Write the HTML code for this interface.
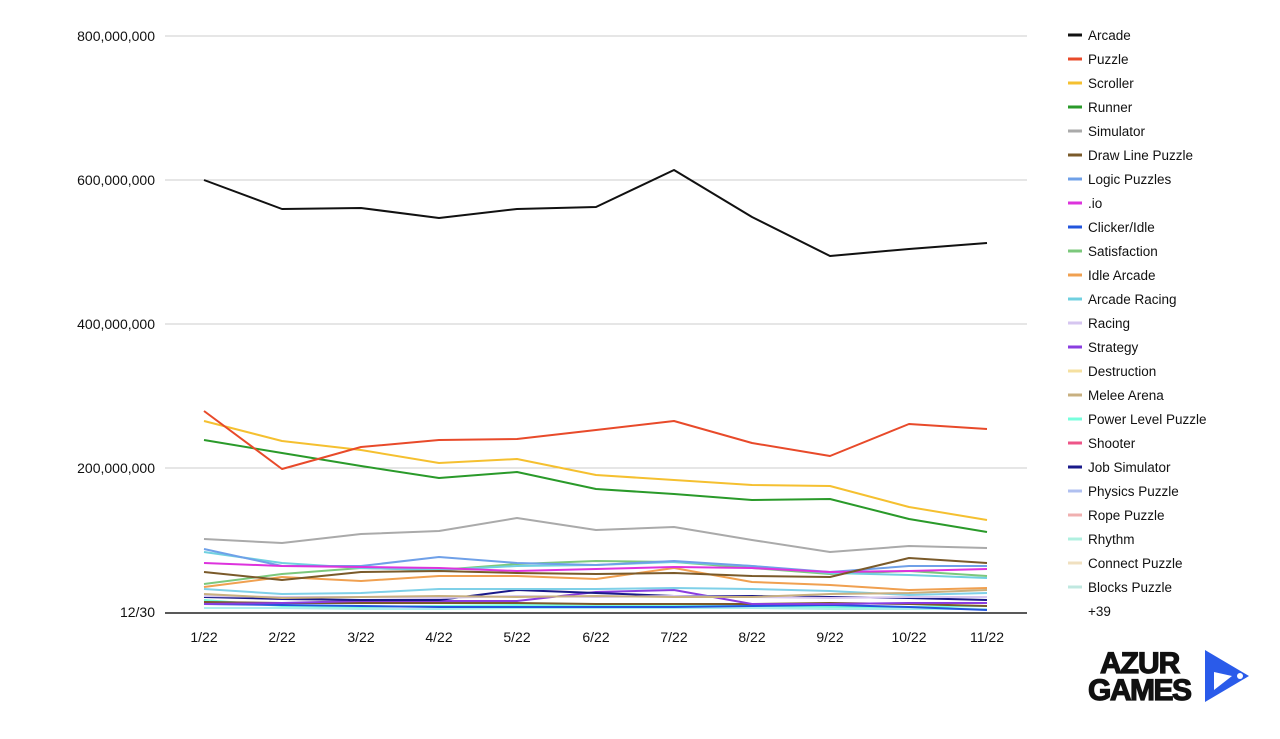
<!DOCTYPE html><html><head><style>body{margin:0;background:#fff;font-family:"Liberation Sans",sans-serif}</style></head><body>
<svg width="1280" height="734" xmlns="http://www.w3.org/2000/svg" font-family="Liberation Sans, sans-serif">
<g stroke="#ccc" stroke-width="1"><line x1="165" y1="36" x2="1027" y2="36"/><line x1="165" y1="180" x2="1027" y2="180"/><line x1="165" y1="324" x2="1027" y2="324"/><line x1="165" y1="468" x2="1027" y2="468"/></g>
<line x1="165" y1="613" x2="1027" y2="613" stroke="#222" stroke-width="1.5"/>
<g font-size="14" fill="#111" text-anchor="end"><text x="155" y="41">800,000,000</text><text x="155" y="185">600,000,000</text><text x="155" y="329">400,000,000</text><text x="155" y="473">200,000,000</text><text x="155" y="617">12/30</text></g>
<g font-size="14" fill="#111" text-anchor="middle"><text x="204" y="642">1/22</text><text x="282" y="642">2/22</text><text x="361" y="642">3/22</text><text x="439" y="642">4/22</text><text x="517" y="642">5/22</text><text x="596" y="642">6/22</text><text x="674" y="642">7/22</text><text x="752" y="642">8/22</text><text x="830" y="642">9/22</text><text x="909" y="642">10/22</text><text x="987" y="642">11/22</text></g>
<g fill="none" stroke-width="2" stroke-linejoin="round">
<polyline stroke="#aee" points="204,608 282,608 361,609 439,609 517,608 596,608 674,608 752,608 830,609 909,609 987,609"/>
<polyline stroke="#7fd" points="204,600 282,606 361,607 439,606 517,605 596,606 674,605 752,606 830,607 909,607 987,606"/>
<polyline stroke="#2255dd" points="204,604 282,605 361,606 439,607 517,607 596,607 674,607 752,606 830,605 909,607 987,610"/>
<polyline stroke="#7a5a2a" points="204,602 282,603 361,603 439,603 517,603 596,604 674,604 752,604 830,603 909,604 987,606"/>
<polyline stroke="#8a3de0" points="204,604 282,603 361,601 439,601 517,601 596,592 674,590 752,604 830,604 909,603 987,603"/>
<polyline stroke="#1a1a8a" points="204,597 282,599 361,600 439,600 517,590 596,593 674,596 752,596 830,597 909,598 987,600"/>
<polyline stroke="#d6c6f0" points="204,596 282,597 361,597 439,598 517,596 596,597 674,596 752,597 830,598 909,597 987,597"/>
<polyline stroke="#7fd0e8" points="204,589 282,594 361,593 439,589 517,589 596,589 674,588 752,589 830,591 909,595 987,593"/>
<polyline stroke="#c8b080" points="204,594 282,598 361,597 439,596 517,597 596,596 674,597 752,597 830,594 909,593 987,590"/>
<polyline stroke="#f0a050" points="204,587 282,577 361,581 439,576 517,576 596,579 674,568 752,582 830,585 909,590 987,588"/>
<polyline stroke="#7cc87c" points="204,584 282,574 361,568 439,570 517,564 596,561 674,562 752,568 830,574 909,571 987,576"/>
<polyline stroke="#70d0e0" points="204,552 282,563 361,568 439,570 517,566 596,565 674,562 752,566 830,573 909,575 987,578"/>
<polyline stroke="#6fa0e8" points="204,549 282,566 361,566 439,557 517,563 596,565 674,561 752,566 830,572 909,566 987,566"/>
<polyline stroke="#dd33dd" points="204,563 282,566 361,567 439,568 517,571 596,569 674,567 752,568 830,572 909,571 987,569"/>
<polyline stroke="#7a5a2a" points="204,572 282,580 361,572 439,571 517,573 596,574 674,573 752,576 830,577 909,558 987,563"/>
<polyline stroke="#aaa" points="204,539 282,543 361,534 439,531 517,518 596,530 674,527 752,540 830,552 909,546 987,548"/>
<polyline stroke="#2a9a2a" points="204,440 282,453 361,466 439,478 517,472 596,489 674,494 752,500 830,499 909,519 987,532"/>
<polyline stroke="#f5c030" points="204,421 282,441 361,450 439,463 517,459 596,475 674,480 752,485 830,486 909,507 987,520"/>
<polyline stroke="#e84a2a" points="204,411 282,469 361,447 439,440 517,439 596,430 674,421 752,443 830,456 909,424 987,429"/>
<polyline stroke="#111" points="204,180 282,209 361,208 439,218 517,209 596,207 674,170 752,217 830,256 909,249 987,243"/>
</g>
<g font-size="13.5" fill="#111">
<g stroke-width="3">
<line x1="1068" y1="35" x2="1082" y2="35" stroke="#111"/><line x1="1068" y1="59" x2="1082" y2="59" stroke="#e84a2a"/><line x1="1068" y1="83" x2="1082" y2="83" stroke="#f5c030"/><line x1="1068" y1="107" x2="1082" y2="107" stroke="#2a9a2a"/><line x1="1068" y1="131" x2="1082" y2="131" stroke="#aaa"/><line x1="1068" y1="155" x2="1082" y2="155" stroke="#7a5a2a"/><line x1="1068" y1="179" x2="1082" y2="179" stroke="#6fa0e8"/><line x1="1068" y1="203" x2="1082" y2="203" stroke="#dd33dd"/><line x1="1068" y1="227" x2="1082" y2="227" stroke="#2255dd"/><line x1="1068" y1="251" x2="1082" y2="251" stroke="#7cc87c"/><line x1="1068" y1="275" x2="1082" y2="275" stroke="#f0a050"/><line x1="1068" y1="299" x2="1082" y2="299" stroke="#70d0e0"/><line x1="1068" y1="323" x2="1082" y2="323" stroke="#d6c6f0"/><line x1="1068" y1="347" x2="1082" y2="347" stroke="#8a3de0"/><line x1="1068" y1="371" x2="1082" y2="371" stroke="#f5e0a0"/><line x1="1068" y1="395" x2="1082" y2="395" stroke="#c8b080"/><line x1="1068" y1="419" x2="1082" y2="419" stroke="#7fd"/><line x1="1068" y1="443" x2="1082" y2="443" stroke="#ee5588"/><line x1="1068" y1="467" x2="1082" y2="467" stroke="#1a1a8a"/><line x1="1068" y1="491" x2="1082" y2="491" stroke="#b0c0f0"/><line x1="1068" y1="515" x2="1082" y2="515" stroke="#f0b0b0"/><line x1="1068" y1="539" x2="1082" y2="539" stroke="#b0f0e0"/><line x1="1068" y1="563" x2="1082" y2="563" stroke="#f0e0c0"/><line x1="1068" y1="587" x2="1082" y2="587" stroke="#c0e8e0"/>
</g>
<text x="1088" y="40">Arcade</text><text x="1088" y="64">Puzzle</text><text x="1088" y="88">Scroller</text><text x="1088" y="112">Runner</text><text x="1088" y="136">Simulator</text><text x="1088" y="160">Draw Line Puzzle</text><text x="1088" y="184">Logic Puzzles</text><text x="1088" y="208">.io</text><text x="1088" y="232">Clicker/Idle</text><text x="1088" y="256">Satisfaction</text><text x="1088" y="280">Idle Arcade</text><text x="1088" y="304">Arcade Racing</text><text x="1088" y="328">Racing</text><text x="1088" y="352">Strategy</text><text x="1088" y="376">Destruction</text><text x="1088" y="400">Melee Arena</text><text x="1088" y="424">Power Level Puzzle</text><text x="1088" y="448">Shooter</text><text x="1088" y="472">Job Simulator</text><text x="1088" y="496">Physics Puzzle</text><text x="1088" y="520">Rope Puzzle</text><text x="1088" y="544">Rhythm</text><text x="1088" y="568">Connect Puzzle</text><text x="1088" y="592">Blocks Puzzle</text><text x="1088" y="616">+39</text>
</g>
<g font-weight="bold" font-size="30" fill="#111" stroke="#111" stroke-width="1.2"><text x="1100" y="673" letter-spacing="-1">AZUR</text><text x="1088" y="700" letter-spacing="-1.5">GAMES</text></g>
<polygon points="1205,650 1249,676 1205,702" fill="#2a5bea"/>
<polygon points="1214,672 1232,676 1214,690" fill="#fff"/>
<circle cx="1240" cy="676" r="3" fill="#fff"/>
</svg></body></html>
